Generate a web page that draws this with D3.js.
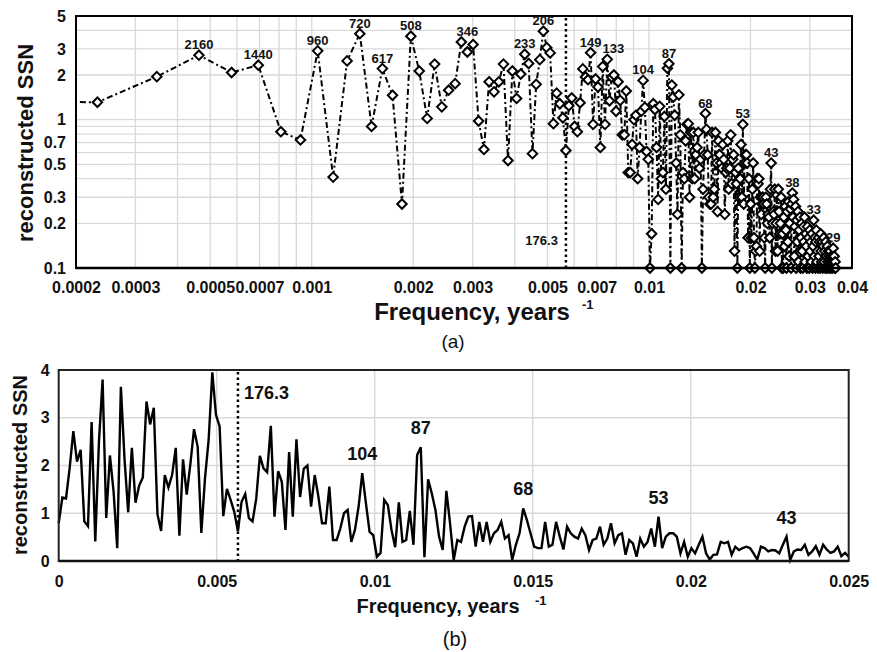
<!DOCTYPE html>
<html><head><meta charset="utf-8">
<script src="https://cdn.jsdelivr.net/npm/d3@7"></script>
<style>
body{margin:0;background:#fff}
svg{display:block}
text{font-family:"Liberation Sans",Arial,sans-serif}
</style>
</head><body>
<svg id="c" width="877" height="652"></svg>
<script>
// frequency step: index k corresponds to frequency k / periodBase (years^-1)
const periodBase = 8640;
const ssn = [
 0.79,1.33,1.31,1.95,2.72,2.08,2.33,0.83,0.73,2.91,
 0.41,2.49,3.80,0.90,2.21,1.46,0.27,3.65,2.13,1.02,
 2.37,1.22,1.58,1.75,3.34,2.86,3.21,0.98,0.63,1.80,
 1.54,1.80,2.37,0.53,2.13,1.39,2.03,2.76,2.39,0.59,
 1.73,2.54,3.95,3.06,2.82,0.94,1.51,1.28,1.03,0.62,
 1.24,1.40,0.90,0.83,1.30,2.20,1.94,1.86,2.83,0.93,
 1.88,1.66,0.65,2.28,0.93,2.55,1.34,1.93,2.00,1.14,
 1.80,1.35,0.79,0.79,1.56,0.44,0.44,0.68,1.00,1.07,
 0.40,0.65,1.14,1.84,1.21,0.61,0.54,0.09,0.17,1.28,
 1.17,0.65,0.29,1.23,0.40,0.44,1.05,0.34,2.22,2.38,
 0.08,1.71,1.42,1.07,0.51,0.23,1.47,0.79,0.02,0.44,
 0.40,0.72,0.93,0.94,0.30,0.82,0.40,0.82,0.40,0.58,
 0.65,0.82,0.47,0.54,0.02,0.34,0.58,1.10,0.86,0.58,
 0.30,0.27,0.27,0.82,0.30,0.34,0.82,0.51,0.24,0.72,
 0.58,0.51,0.47,0.68,0.54,0.23,0.44,0.47,0.72,0.34,
 0.47,0.79,0.37,0.54,0.58,0.13,0.44,0.37,0.09,0.47,
 0.30,0.40,0.68,0.30,0.93,0.27,0.51,0.58,0.58,0.51,
 0.16,0.40,0.09,0.27,0.16,0.34,0.51,0.16,0.03,0.13,
 0.14,0.40,0.37,0.40,0.13,0.30,0.23,0.27,0.30,0.27,
 0.16,0.03,0.30,0.27,0.20,0.23,0.22,0.16,0.34,0.51,
 0.02,0.20,0.24,0.23,0.34,0.13,0.20,0.31,0.13,0.34,
 0.24,0.17,0.20,0.30,0.10,0.17,0.09,0.22,0.14,0.26,
 0.18,0.10,0.24,0.15,0.28,0.12,0.20,0.25,0.10,0.27,
 0.32,0.22,0.29,0.12,0.19,0.26,0.10,0.21,0.15,0.24,
 0.11,0.18,0.22,0.10,0.16,0.20,0.13,0.10,0.19,0.15,
 0.22,0.11,0.17,0.14,0.10,0.19,0.12,0.16,0.10,0.18,
 0.13,0.15,0.11,0.17,0.10,0.14,0.21,0.12,0.16,0.10,
 0.15,0.18,0.11,0.13,0.10,0.16,0.12,0.15,0.10,0.17,
 0.13,0.11,0.15,0.10,0.14,0.16,0.11,0.13,0.10,0.15,
 0.12,0.10,0.14,0.11,0.13,0.10,0.12,0.11,0.13,0.10,
 0.12,0.11,0.10,0.12,0.136,0.11,0.12,0.10,0.11,0.10
];
const topTicksX = [0.0002,0.0003,0.0005,0.0007,0.001,0.002,0.003,0.005,0.007,0.01,0.02,0.03,0.04];
const topTicksY = [0.1,0.2,0.3,0.5,0.7,1,2,3,5];
const bottomTicksX = [0,0.005,0.01,0.015,0.02,0.025];
const bottomTicksY = [0,1,2,3,4];
const bottomGridX = [0.005,0.01,0.015,0.02];
const bottomGridY = [1,2,3];
const topPeakLabels = ["2160","1440","960","720","617","508","346","233","206","149","133","104","87","68","53","43","38","33","29"];
const topPeakIndex  = [4,6,9,12,14,17,25,37,42,58,65,83,99,127,164,199,230,266,304];
const bottomPeakLabels = ["104","87","68","53","43"];
const bottomPeakIndex  = [83,99,127,164,199];
const markerPeriod = 176.3;
const yLabel = "reconstructed SSN";
const xLabel = "Frequency, years";

const data = ssn.map((v,k)=>({f:k/periodBase, v:v, k:k}));
const svg = d3.select('#c');
svg.append('rect').attr('width',877).attr('height',652).attr('fill','#fff');
const GRID = '#d9d9d9';
const INK = '#111';

// ================= TOP PANEL (log-log) =================
const tL=76,tR=852,tT=16,tB=268;
const xT = d3.scaleLog().domain([0.0002,0.04]).range([tL,tR]);
const yT = d3.scaleLog().domain([0.1,5]).range([tB,tT]).clamp(true);
const gT = svg.append('g');
gT.append('g').selectAll('line').data(xT.ticks()).join('line')
  .attr('x1',d=>xT(d)).attr('x2',d=>xT(d)).attr('y1',tT).attr('y2',tB)
  .attr('stroke',GRID).attr('stroke-width',1.3);
gT.append('g').selectAll('line').data(yT.ticks()).join('line')
  .attr('x1',tL).attr('x2',tR).attr('y1',d=>yT(d)).attr('y2',d=>yT(d))
  .attr('stroke',GRID).attr('stroke-width',1.3);

svg.append('clipPath').attr('id','clipT').append('rect')
  .attr('x',tL).attr('y',0).attr('width',tR-tL).attr('height',tB+10);
const topData = data.filter(d=>d.k>=1);
gT.append('path').datum(topData)
  .attr('clip-path','url(#clipT)')
  .attr('d',d3.line().x(d=>xT(d.f)).y(d=>yT(Math.max(d.v,0.1))))
  .attr('fill','none').attr('stroke','#000').attr('stroke-width',2)
  .attr('stroke-dasharray','6,3,2,3');

// dotted marker line
const fm = 1/markerPeriod;
gT.append('line').attr('x1',xT(fm)).attr('x2',xT(fm)).attr('y1',tT+2).attr('y2',tB)
  .attr('stroke','#000').attr('stroke-width',2.5).attr('stroke-dasharray','2.5,3');

const diamond = {draw(ctx,size){const r=Math.sqrt(size)/2;ctx.moveTo(0,-r);ctx.lineTo(r,0);ctx.lineTo(0,r);ctx.lineTo(-r,0);ctx.closePath();}};
gT.append('g').selectAll('path').data(topData.filter(d=>d.f>=0.0002)).join('path')
  .attr('transform',d=>`translate(${xT(d.f)},${yT(Math.max(d.v,0.1))})`)
  .attr('d',d3.symbol().type(diamond).size(90))
  .attr('fill','#fff').attr('stroke','#000').attr('stroke-width',2);

// frame
gT.append('rect').attr('x',tL).attr('y',tT).attr('width',tR-tL).attr('height',tB-tT)
  .attr('fill','none').attr('stroke','#000').attr('stroke-width',2);
gT.append('line').attr('x1',tL).attr('x2',tR).attr('y1',tB).attr('y2',tB).attr('stroke','#000').attr('stroke-width',2.5);

// peak labels (shifted right when they would collide with the previous one)
const peakTexts = gT.append('g').selectAll('text').data(topPeakIndex).join('text')
  .attr('x',k=>xT(data[k].f))
  .attr('y',k=>yT(Math.max(ssn[k-1],ssn[k],ssn[k+1]))-6)
  .attr('text-anchor','middle').attr('font-size',13).attr('font-weight','bold').attr('fill',INK)
  .text((k,i)=>topPeakLabels[i]);
let prevBox = null;
peakTexts.each(function(){
  const b = this.getBBox();
  if (prevBox && b.x < prevBox.x+prevBox.width+1 && Math.abs(b.y-prevBox.y) < b.height) {
    const shift = prevBox.x+prevBox.width+1-b.x;
    d3.select(this).attr('x', +d3.select(this).attr('x')+shift);
  }
  prevBox = this.getBBox();
});
gT.append('text').attr('x',xT(fm)-8).attr('y',yT(0.143)).attr('text-anchor','end')
  .attr('font-size',13).attr('font-weight','bold').attr('fill',INK).text(markerPeriod);

// axes
const axT = gT.append('g').attr('transform',`translate(0,${tB})`)
  .call(d3.axisBottom(xT).tickValues(topTicksX).tickFormat(d=>String(d)).tickSize(0).tickPadding(14));
const ayT = gT.append('g').attr('transform',`translate(${tL},0)`)
  .call(d3.axisLeft(yT).tickValues(topTicksY).tickFormat(d=>String(d)).tickSize(0).tickPadding(10));
[axT,ayT].forEach(a=>{a.select('.domain').remove();a.selectAll('text').attr('font-size',16).attr('font-weight','bold').attr('fill',INK).attr('font-family','"Liberation Sans",Arial,sans-serif');});

gT.append('text').attr('transform','translate(33,143) rotate(-90)').attr('text-anchor','middle')
  .attr('font-size',22).attr('font-weight','bold').attr('fill',INK).text(yLabel);
gT.append('text').attr('x',472).attr('y',320).attr('text-anchor','middle')
  .attr('font-size',24).attr('font-weight','bold').attr('fill',INK).text(xLabel);
gT.append('text').attr('x',582).attr('y',309).attr('text-anchor','start')
  .attr('font-size',13).attr('font-weight','bold').attr('fill',INK).text('-1');
svg.append('text').attr('x',453).attr('y',348).attr('text-anchor','middle')
  .attr('font-size',19).attr('fill',INK).text('(a)');

// ================= BOTTOM PANEL (linear) =================
const bL=58.7,bR=848.7,bT=370,bB=561;
const xB = d3.scaleLinear().domain([0,0.025]).range([bL,bR]);
const yB = d3.scaleLinear().domain([0,4]).range([bB,bT]);
const gB = svg.append('g');
gB.append('g').selectAll('line').data(bottomGridX).join('line')
  .attr('x1',d=>xB(d)).attr('x2',d=>xB(d)).attr('y1',bT).attr('y2',bB)
  .attr('stroke',GRID).attr('stroke-width',1.5);
gB.append('g').selectAll('line').data(bottomGridY).join('line')
  .attr('x1',bL).attr('x2',bR).attr('y1',d=>yB(d)).attr('y2',d=>yB(d))
  .attr('stroke',GRID).attr('stroke-width',1.5);
gB.append('line').attr('x1',xB(fm)).attr('x2',xB(fm)).attr('y1',bT+2).attr('y2',bB)
  .attr('stroke','#000').attr('stroke-width',2.5).attr('stroke-dasharray','2.5,3');
gB.append('path').datum(data.filter(d=>d.f<=0.025+1e-9))
  .attr('d',d3.line().x(d=>xB(d.f)).y(d=>yB(d.v)))
  .attr('fill','none').attr('stroke','#000').attr('stroke-width',2.4).attr('stroke-linejoin','miter');
gB.append('rect').attr('x',bL).attr('y',bT).attr('width',bR-bL).attr('height',bB-bT)
  .attr('fill','none').attr('stroke','#222').attr('stroke-width',2);
gB.append('line').attr('x1',bL).attr('x2',bR).attr('y1',bB).attr('y2',bB).attr('stroke','#111').attr('stroke-width',2.5);

gB.append('g').selectAll('text').data(bottomPeakIndex).join('text')
  .attr('x',k=>xB(data[k].f)).attr('y',k=>yB(ssn[k])-13)
  .attr('text-anchor','middle').attr('font-size',18).attr('font-weight','bold').attr('fill',INK)
  .text((k,i)=>bottomPeakLabels[i]);
gB.append('text').attr('x',xB(fm)+6).attr('y',yB(3.40)).attr('text-anchor','start')
  .attr('font-size',18).attr('font-weight','bold').attr('fill',INK).text(markerPeriod);

const axB = gB.append('g').attr('transform',`translate(0,${bB})`)
  .call(d3.axisBottom(xB).tickValues(bottomTicksX).tickFormat(d=>String(d)).tickSize(0).tickPadding(15));
const ayB = gB.append('g').attr('transform',`translate(${bL},0)`)
  .call(d3.axisLeft(yB).tickValues(bottomTicksY).tickFormat(d=>String(d)).tickSize(0).tickPadding(9));
[axB,ayB].forEach(a=>{a.select('.domain').remove();a.selectAll('text').attr('font-size',16).attr('font-weight','bold').attr('fill',INK).attr('font-family','"Liberation Sans",Arial,sans-serif');});

gB.append('text').attr('transform','translate(27,465) rotate(-90)').attr('text-anchor','middle')
  .attr('font-size',20).attr('font-weight','bold').attr('fill',INK).text(yLabel);
gB.append('text').attr('x',438).attr('y',613).attr('text-anchor','middle')
  .attr('font-size',20).attr('font-weight','bold').attr('fill',INK).text(xLabel);
gB.append('text').attr('x',535).attr('y',605).attr('text-anchor','start')
  .attr('font-size',13).attr('font-weight','bold').attr('fill',INK).text('-1');
svg.append('text').attr('x',455).attr('y',646).attr('text-anchor','middle')
  .attr('font-size',20).attr('fill',INK).text('(b)');
</script>
</body></html>
